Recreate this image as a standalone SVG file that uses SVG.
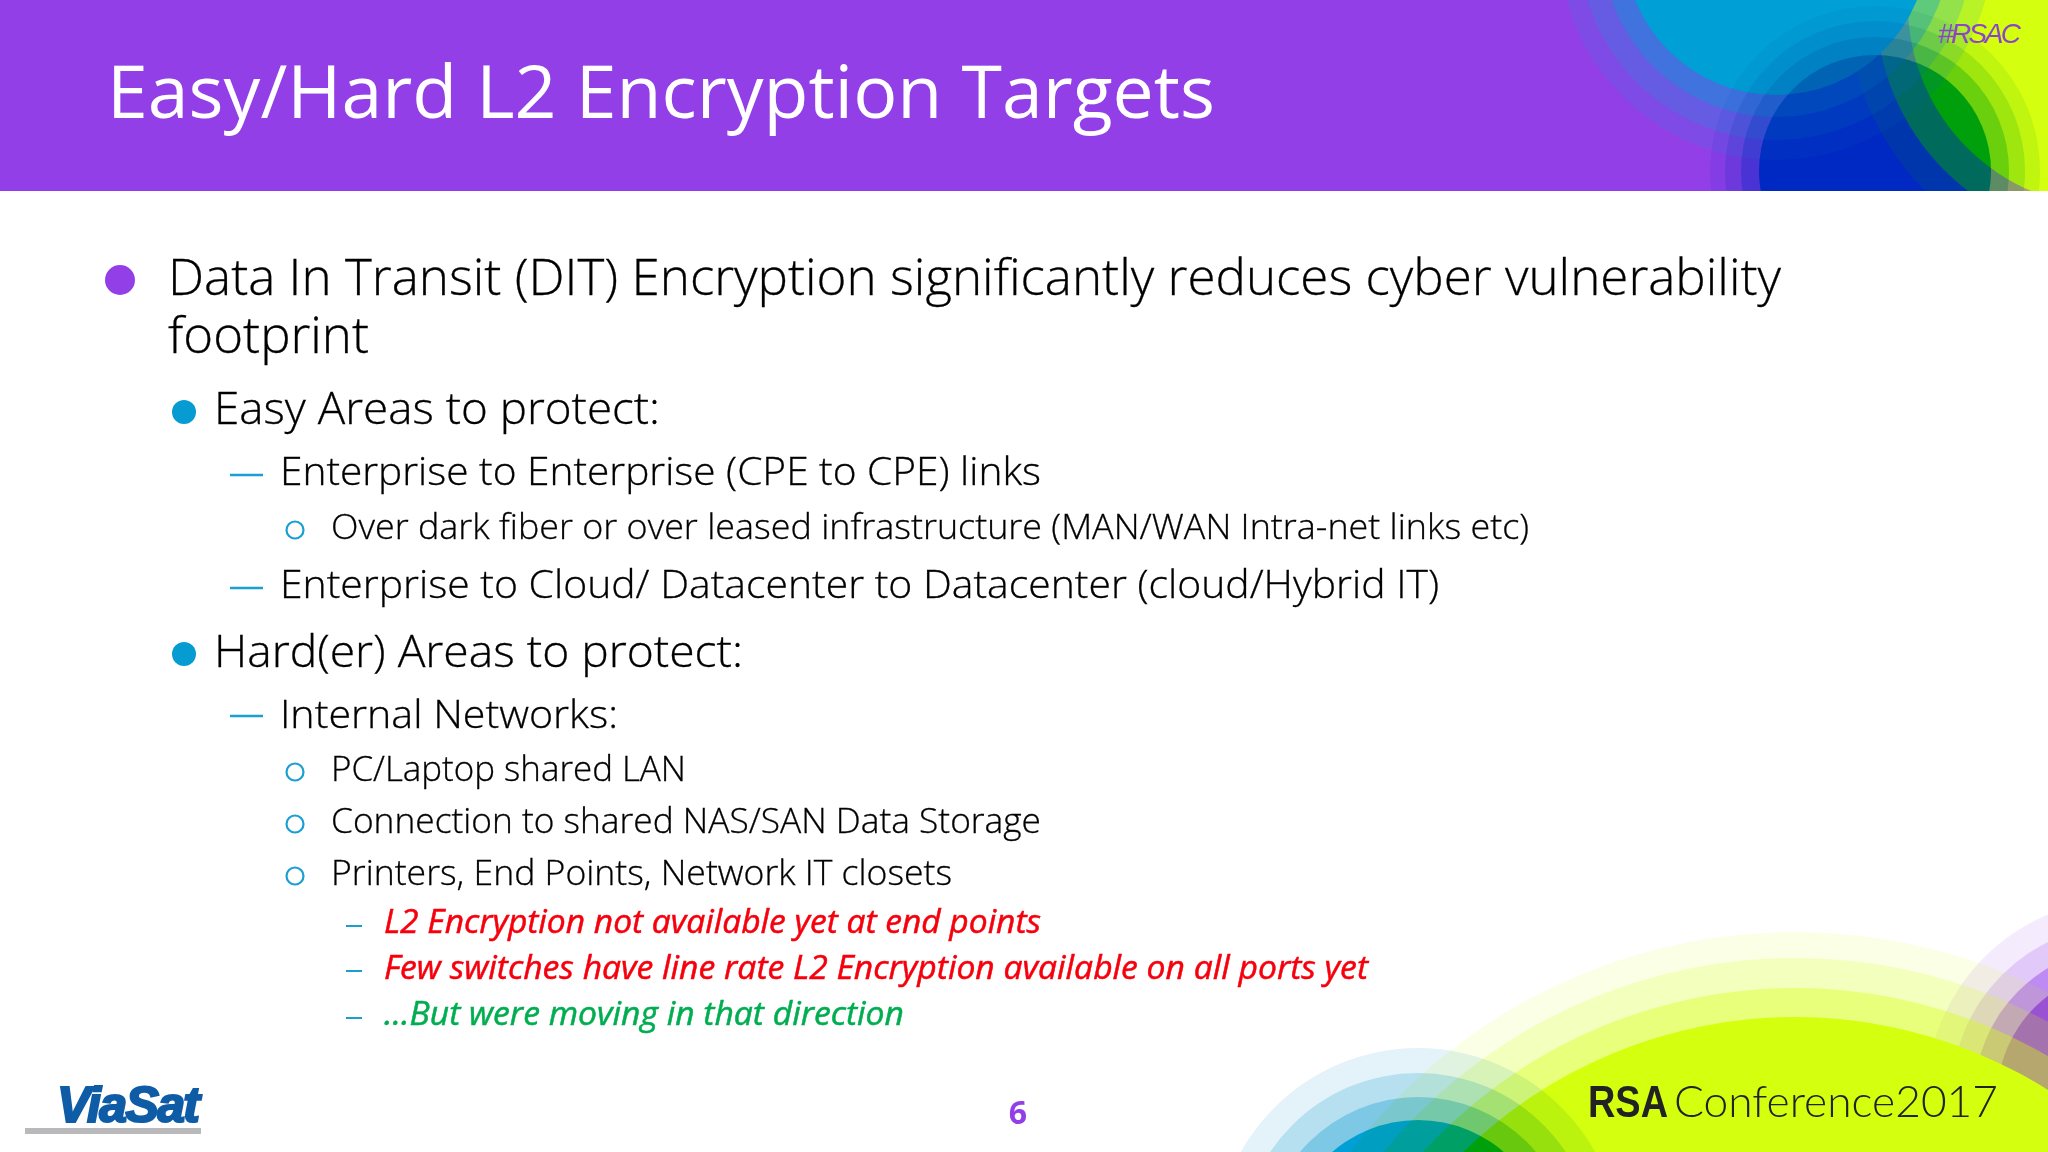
<svg xmlns="http://www.w3.org/2000/svg" width="2048" height="1152" viewBox="0 0 2048 1152">
<style>
text{font-family:"Open Sans","Noto Sans","Liberation Sans",sans-serif;fill:#111}
.body{font-weight:300;fill:#000;stroke:#000;stroke-width:.3}
.l1{font-size:50px}.l2{font-size:44px}.l3{font-size:39px}.l4{font-size:35px}
.it{font-size:33px;font-style:italic;font-weight:500}
.red{fill:#f5000c;stroke:#f5000c;stroke-width:.5}.grn{fill:#00ad50;stroke:#00ad50;stroke-width:.5}
.b1{fill:#923fe8}.b2{fill:#069cd2}
.d{stroke:#1a9fd2;stroke-width:2.5;fill:none}
.r{stroke:#1a9fd2;stroke-width:2.2;fill:none}
.mul{mix-blend-mode:multiply}
</style>
<defs><clipPath id="banner"><rect x="0" y="0" width="2048" height="191"/></clipPath></defs>
<rect width="2048" height="1152" fill="#fff"/>
<g id="banner-art" clip-path="url(#banner)">
<rect width="2048" height="191" fill="#923fe8"/>
<g fill="#d4ff0e">
<circle cx="2110" cy="5" r="262" opacity=".12"/>
<circle cx="2110" cy="5" r="234" opacity=".5"/>
<circle cx="2110" cy="5" r="202"/>
</g>
<g fill="#009fd6">
<circle cx="1776" cy="-57" r="217" opacity=".13"/>
<circle cx="1776" cy="-57" r="197" opacity=".2"/>
<circle cx="1776" cy="-57" r="174" opacity=".35"/>
<circle cx="1776" cy="-57" r="152"/>
</g>
<g class="mul">
<circle cx="1875" cy="171" r="165" fill="#e6f5fb"/>
<circle cx="1875" cy="171" r="150" fill="#bfe5f3"/>
<circle cx="1875" cy="171" r="134" fill="#80cfe9"/>
<circle cx="1875" cy="171" r="116" fill="#009fd6"/>
</g>
</g>
<g id="corner-art">
<g fill="#923fe8">
<circle cx="2125" cy="1098" r="199" opacity=".1"/>
<circle cx="2125" cy="1098" r="174" opacity=".19"/>
<circle cx="2125" cy="1098" r="151" opacity=".45"/>
<circle cx="2125" cy="1098" r="128"/>
</g>
<g fill="#d4ff0e">
<circle cx="1795" cy="1492" r="560" opacity=".1"/>
<circle cx="1795" cy="1492" r="534" opacity=".19"/>
<circle cx="1795" cy="1492" r="504" opacity=".38"/>
<circle cx="1795" cy="1492" r="475"/>
</g>
<g class="mul">
<circle cx="1418" cy="1251" r="203" fill="#e3f3f9"/>
<circle cx="1418" cy="1251" r="178" fill="#b6e0f0"/>
<circle cx="1418" cy="1251" r="154" fill="#7cc8e5"/>
<circle cx="1418" cy="1251" r="131" fill="#009fd6"/>
</g>
</g>
<text id="title" x="107" y="118" font-size="74" style="fill:#fff" textLength="1108" lengthAdjust="spacingAndGlyphs">Easy/Hard L2 Encryption Targets</text>
<text id="hashtag" x="1938" y="43" font-size="28" font-style="italic" style="fill:#8a45c8;font-family:'Liberation Sans',sans-serif" textLength="83" lengthAdjust="spacing">#RSAC</text>
<g id="bullets">
<circle class="b1" cx="120" cy="280" r="15"/>
<circle class="b2" cx="184" cy="412" r="12"/>
<circle class="b2" cx="184" cy="654" r="12"/>
<path class="d" d="M230 475H263M230 588H263M230 716H263"/>
<circle class="r" cx="295" cy="530" r="8.5"/>
<circle class="r" cx="295" cy="772" r="8.5"/>
<circle class="r" cx="295" cy="824" r="8.5"/>
<circle class="r" cx="295" cy="876" r="8.5"/>
<path class="d" style="stroke-width:2" d="M346 926H362M346 971H362M346 1018H362"/>
</g>
<g id="body">
<text class="body l1" x="168" y="295" textLength="1613" lengthAdjust="spacingAndGlyphs">Data In Transit (DIT) Encryption significantly reduces cyber vulnerability</text>
<text class="body l1" x="168" y="353" textLength="201" lengthAdjust="spacingAndGlyphs">footprint</text>
<text class="body l2" x="214" y="424" textLength="446" lengthAdjust="spacingAndGlyphs">Easy Areas to protect:</text>
<text class="body l3" x="280" y="485" textLength="761" lengthAdjust="spacingAndGlyphs">Enterprise to Enterprise (CPE to CPE) links</text>
<text class="body l4" x="331" y="539" textLength="1198" lengthAdjust="spacingAndGlyphs">Over dark fiber or over leased infrastructure (MAN/WAN Intra-net links etc)</text>
<text class="body l3" x="280" y="598" textLength="1159" lengthAdjust="spacingAndGlyphs">Enterprise to Cloud/ Datacenter to Datacenter (cloud/Hybrid IT)</text>
<text class="body l2" x="214" y="667" textLength="529" lengthAdjust="spacingAndGlyphs">Hard(er) Areas to protect:</text>
<text class="body l3" x="280" y="728" textLength="338" lengthAdjust="spacingAndGlyphs">Internal Networks:</text>
<text class="body l4" x="331" y="781" textLength="355" lengthAdjust="spacingAndGlyphs">PC/Laptop shared LAN</text>
<text class="body l4" x="331" y="833" textLength="710" lengthAdjust="spacingAndGlyphs">Connection to shared NAS/SAN Data Storage</text>
<text class="body l4" x="331" y="885" textLength="621" lengthAdjust="spacingAndGlyphs">Printers, End Points, Network IT closets</text>
<text class="it red" x="384" y="933" textLength="657" lengthAdjust="spacingAndGlyphs">L2 Encryption not available yet at end points</text>
<text class="it red" x="384" y="979" textLength="984" lengthAdjust="spacingAndGlyphs">Few switches have line rate L2 Encryption available on all ports yet</text>
<text class="it grn" x="384" y="1025" textLength="520" lengthAdjust="spacingAndGlyphs">…But were moving in that direction</text>
</g>
<text id="page" x="1018" y="1124" font-size="32" font-weight="700" text-anchor="middle" style="fill:#923fe8">6</text>
<g id="viasat-logo">
<rect x="25" y="1128" width="176" height="6" fill="#b9b9bb"/>
<text x="57" y="1122" font-size="50" font-weight="700" font-style="italic" style="fill:#0f5ca6;stroke:#0f5ca6;stroke-width:2.2;font-family:'Liberation Sans',sans-serif" textLength="143" lengthAdjust="spacing">ViaSat</text>
</g>
<g id="rsa-logo">
<text x="1588" y="1117" font-size="44" font-weight="700" style="fill:#222;font-family:'Liberation Sans',sans-serif" textLength="80" lengthAdjust="spacingAndGlyphs">RSA</text>
<text x="1674" y="1117" font-size="44" font-weight="300" style="fill:#222;font-family:Lato,sans-serif" textLength="324" lengthAdjust="spacingAndGlyphs">Conference2017</text>
</g>
</svg>
